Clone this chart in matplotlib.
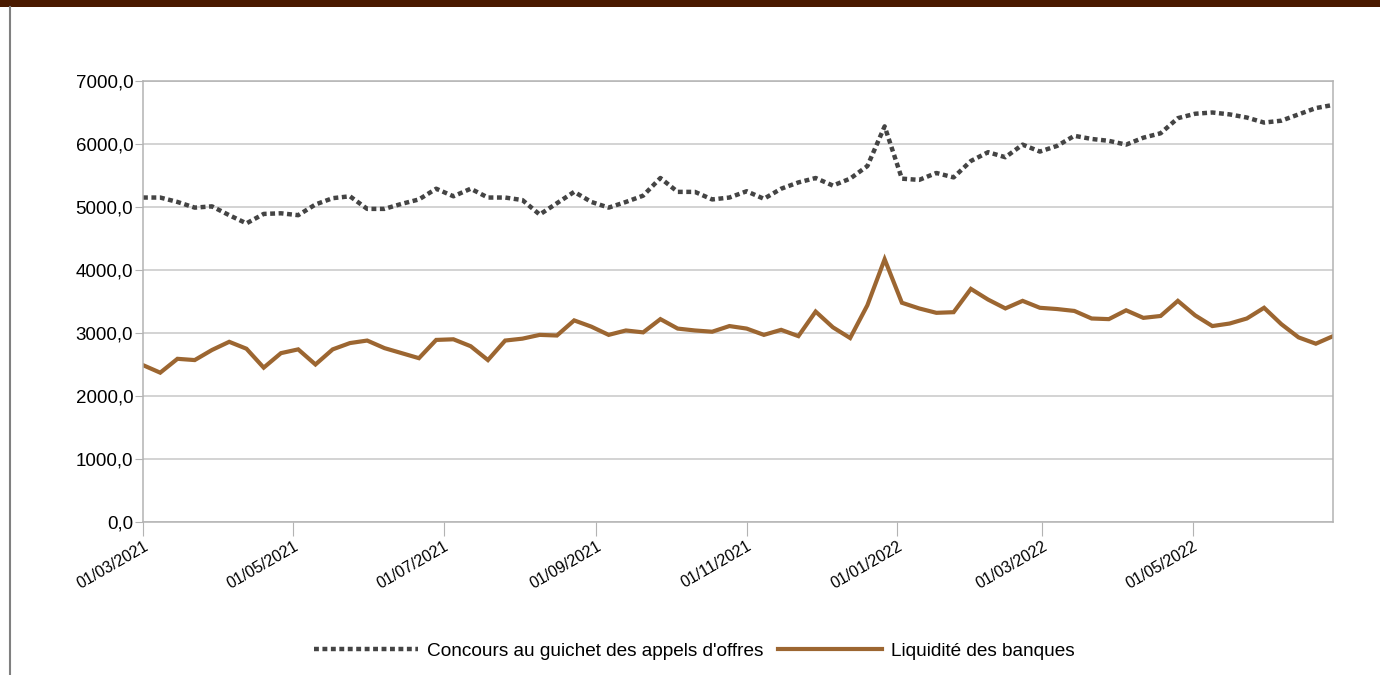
import matplotlib.pyplot as plt
import matplotlib.dates as mdates
import pandas as pd

plt.rcParams['font.family'] = ['Liberation Sans', 'DejaVu Sans']

# weekly observations
dates = pd.date_range('2021-03-01', periods=70, freq='7D')

concours = [5150, 5150, 5080, 4990, 5010, 4870, 4740, 4890, 4900, 4870,
            5040, 5140, 5170, 4970, 4970, 5050, 5120, 5290, 5170, 5290,
            5150, 5150, 5110, 4880, 5060, 5240, 5080, 4990, 5080, 5180,
            5460, 5240, 5240, 5120, 5150, 5250, 5130, 5290, 5390, 5460,
            5340, 5450, 5650, 6280, 5450, 5430, 5540, 5470, 5730, 5870,
            5790, 5990, 5880, 5970, 6130, 6080, 6050, 5990, 6100, 6170,
            6410, 6480, 6500, 6470, 6420, 6340, 6370, 6470, 6570, 6620]

liquidite = [2490, 2370, 2590, 2570, 2730, 2860, 2750, 2450, 2680, 2740,
             2500, 2740, 2840, 2880, 2760, 2680, 2600, 2890, 2900, 2790,
             2570, 2880, 2910, 2970, 2960, 3200, 3100, 2970, 3040, 3010,
             3220, 3070, 3040, 3020, 3110, 3070, 2970, 3050, 2950, 3340,
             3090, 2920, 3440, 4170, 3480, 3390, 3320, 3330, 3700, 3530,
             3390, 3510, 3400, 3380, 3350, 3230, 3220, 3360, 3240, 3270,
             3510, 3280, 3110, 3150, 3230, 3400, 3140, 2930, 2830, 2950]

labels = ["Concours au guichet des appels d'offres", "Liquidité des banques"]

fig = plt.figure(figsize=(13.8, 6.75), dpi=100)
ax = fig.add_axes([0.1036, 0.2267, 0.8624, 0.6533])

ax.plot(dates, concours, color='#444444', linewidth=3.2,
        linestyle=(0, (1.1, 0.8)), dash_capstyle='butt', label=labels[0])
ax.plot(dates, liquidite, color='#9c6631', linewidth=3.0,
        solid_joinstyle='miter', label=labels[1])

ax.set_xlim(dates[0], dates[-1])
ax.set_ylim(0, 7000)
ax.set_yticks(range(0, 7001, 1000))
ax.yaxis.set_major_formatter(lambda v, p: f"{v:.1f}".replace('.', ','))
ax.xaxis.set_major_locator(mdates.MonthLocator(bymonth=[1, 3, 5, 7, 9, 11]))
ax.xaxis.set_major_formatter(mdates.DateFormatter('%d/%m/%Y'))

ax.grid(axis='y', color='#c8c8c8', linewidth=1.1)
ax.set_axisbelow(True)
for s in ax.spines.values():
    s.set_color('#b3b3b3')
    s.set_linewidth(1.1)
ax.tick_params(axis='y', length=6, color='#b3b3b3', labelsize=13.5, pad=1)
ax.tick_params(axis='x', length=10, color='#b3b3b3', labelsize=11.5, pad=2)
for t in ax.get_xticklabels():
    t.set_rotation(30)
    t.set_ha('right')
    t.set_rotation_mode('anchor')

fig.legend(loc='center', bbox_to_anchor=(0.503, 0.035), ncol=2, frameon=False,
           fontsize=13.7, handlelength=5.5, columnspacing=0.75, handletextpad=0.45)

# top banner and left frame line
fig.patches.append(plt.Rectangle((0, 1 - 7 / 675), 1, 7 / 675, transform=fig.transFigure,
                                 facecolor='#4a1a00', edgecolor='none'))
fig.lines.append(plt.Line2D([10 / 1380, 10 / 1380], [0, 1 - 7 / 675], transform=fig.transFigure,
                            color='#808080', linewidth=1.5))

fig.savefig('out.png', dpi=100)
